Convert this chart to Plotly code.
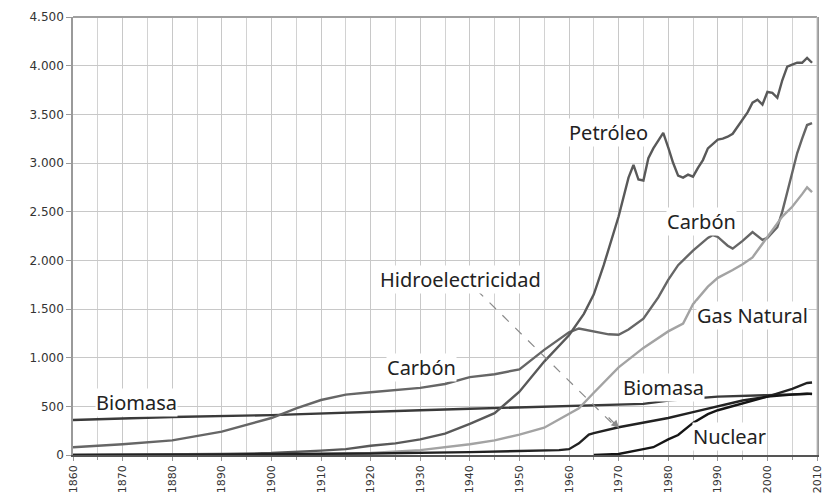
import plotly.graph_objects as go

# ---------------- data (Mtep) ----------------
years_petroleo = [1860, 1870, 1880, 1890, 1900, 1905, 1910, 1915, 1920, 1925, 1930, 1935, 1940, 1945,
                  1950, 1955, 1960, 1963, 1965, 1967, 1969, 1970, 1972, 1973, 1974, 1975, 1976, 1977,
                  1978, 1979, 1980, 1981, 1982, 1983, 1984, 1985, 1986, 1987, 1988, 1989, 1990, 1991,
                  1992, 1993, 1994, 1995, 1996, 1997, 1998, 1999, 2000, 2001, 2002, 2003, 2004, 2005,
                  2006, 2007, 2008, 2009]
petroleo = [0, 2, 5, 10, 20, 30, 45, 60, 95, 120, 160, 220, 320, 430,
            650, 960, 1230, 1450, 1650, 1950, 2300, 2450, 2850, 2980, 2830, 2820, 3050, 3150,
            3230, 3310, 3160, 3000, 2870, 2850, 2880, 2860, 2950, 3030, 3150, 3200, 3240, 3250,
            3270, 3300, 3370, 3440, 3520, 3620, 3650, 3600, 3730, 3720, 3670, 3850, 3990, 4010,
            4030, 4030, 4080, 4030]

years_carbon = [1860, 1870, 1880, 1890, 1900, 1905, 1910, 1915, 1920, 1925, 1930, 1935, 1940, 1945,
                1950, 1955, 1960, 1962, 1965, 1968, 1970, 1972, 1975, 1978, 1980, 1982, 1985, 1988,
                1989, 1990, 1992, 1993, 1995, 1997, 1999, 2000, 2002, 2003, 2004, 2005, 2006, 2007,
                2008, 2009]
carbon = [80, 110, 150, 240, 380, 480, 565, 620, 645, 665, 690, 730, 800, 830,
          880, 1080, 1260, 1300, 1270, 1240, 1235, 1290, 1400, 1620, 1800, 1950, 2100, 2230,
          2260, 2240, 2150, 2120, 2200, 2290, 2210, 2230, 2340, 2500, 2700, 2900, 3100, 3250,
          3390, 3410]

years_gas = [1860, 1890, 1900, 1910, 1920, 1930, 1935, 1940, 1945, 1950, 1955, 1960, 1962, 1965,
             1970, 1975, 1980, 1983, 1985, 1988, 1990, 1993, 1995, 1997, 2000, 2001, 2003, 2005,
             2007, 2008, 2009]
gas_natural = [0, 0, 5, 10, 20, 50, 80, 110, 150, 210, 280, 420, 480, 640,
               900, 1100, 1270, 1350, 1550, 1730, 1820, 1900, 1960, 2030, 2250, 2310, 2450, 2550,
               2680, 2750, 2700]

years_biomasa = [1860, 1880, 1900, 1916, 1930, 1940, 1950, 1958, 1970, 1975, 1980, 1990, 2000, 2008, 2009]
biomasa = [360, 390, 410, 440, 460, 475, 490, 505, 520, 525, 560, 600, 615, 630, 630]

years_hidro = [1860, 1900, 1920, 1940, 1950, 1958, 1960, 1962, 1964, 1965, 1970, 1975, 1980, 1985,
               1990, 1995, 2000, 2005, 2008, 2009]
hidroelectricidad = [0, 5, 15, 30, 40, 50, 60, 120, 210, 225, 285, 330, 380, 440,
                     500, 560, 600, 680, 740, 745]

years_nuclear = [1965, 1970, 1975, 1977, 1980, 1982, 1985, 1988, 1990, 1995, 2000, 2005, 2008, 2009]
nuclear = [0, 10, 60, 80, 160, 205, 330, 420, 460, 530, 600, 620, 630, 625]

y_ticks = [0, 500, 1000, 1500, 2000, 2500, 3000, 3500, 4000, 4500]
x_ticks = list(range(1860, 2011, 10))

series = [
    ("Biomasa", years_biomasa, biomasa, "#3a3a3a"),
    ("Carbón", years_carbon, carbon, "#666666"),
    ("Petróleo", years_petroleo, petroleo, "#595959"),
    ("Gas Natural", years_gas, gas_natural, "#a3a3a3"),
    ("Hidroelectricidad", years_hidro, hidroelectricidad, "#222222"),
    ("Nuclear", years_nuclear, nuclear, "#151515"),
]

fig = go.Figure()
for name, xs, ys, col in series:
    fig.add_trace(go.Scatter(x=xs, y=ys, mode="lines", name=name,
                             line=dict(color=col, width=2.4), showlegend=False))

label_font = dict(family="Noto Sans", size=20, color="#222222")
labels = [
    ("Petróleo", 1967.9, 3318),
    ("Carbón", 1986.8, 2395),
    ("Hidroelectricidad", 1938.2, 1808),
    ("Gas Natural", 1996.9, 1438),
    ("Carbón", 1930.2, 904),
    ("Biomasa", 1872.9, 540),
    ("Biomasa", 1979.0, 695),
    ("Nuclear", 1992.3, 195),
]
for txt, xx, yy in labels:
    fig.add_annotation(x=xx, y=yy, text=txt, showarrow=False, font=label_font,
                       bgcolor="white", borderpad=0)

# dashed pointer from "Hidroelectricidad" to its line
fig.add_shape(type="line", x0=1941.4, y0=1695, x1=1969.2, y1=300,
              line=dict(color="#8a8a8a", width=1.2, dash="dash"))
fig.add_annotation(x=1970.1, y=277, text="", showarrow=True, ax=-12, ay=-12,
                   arrowhead=2, arrowsize=1.3, arrowwidth=1.2, arrowcolor="#8a8a8a")

# the page body adds an 8px margin, so the figure is 8px smaller than the window
fig.update_layout(
    template="none",
    width=824, height=492,
    margin=dict(l=65, r=15, t=9, b=45, autoexpand=False),
    paper_bgcolor="white", plot_bgcolor="white",
    separators=",.",
)
fig.update_xaxes(range=[1860, 2010], tickvals=x_ticks, ticktext=[str(v) for v in x_ticks],
                 tickangle=-90, tickfont=dict(family="DejaVu Sans", size=11, color="#333333"),
                 automargin=False,
                 showgrid=True, gridcolor="#c8c8c8", gridwidth=1,
                 minor=dict(dtick=5, tick0=1860, showgrid=True, gridcolor="#d2d2d2",
                            ticks="outside", ticklen=3, tickcolor="#999999"),
                 ticks="outside", ticklen=4, tickcolor="#999999",
                 showline=True, linecolor="#555555", linewidth=1.5, mirror=False,
                 zeroline=False)
fig.update_yaxes(range=[0, 4500], tickvals=y_ticks, tickformat=",d",
                 tickfont=dict(family="DejaVu Sans", size=12, color="#333333"),
                 automargin=False,
                 showgrid=True, gridcolor="#c8c8c8", gridwidth=1,
                 ticks="outside", ticklen=5, tickcolor="#999999",
                 showline=True, linecolor="#9a9a9a", linewidth=1.5, mirror=True,
                 zeroline=False)
# top and right border
fig.add_shape(type="line", xref="paper", yref="paper", x0=0, x1=1, y0=1, y1=1,
              line=dict(color="#a0a0a0", width=2))
fig.add_shape(type="line", xref="paper", yref="paper", x0=1, x1=1, y0=0, y1=1,
              line=dict(color="#c0c0c0", width=1))

fig.write_html("out.html")
